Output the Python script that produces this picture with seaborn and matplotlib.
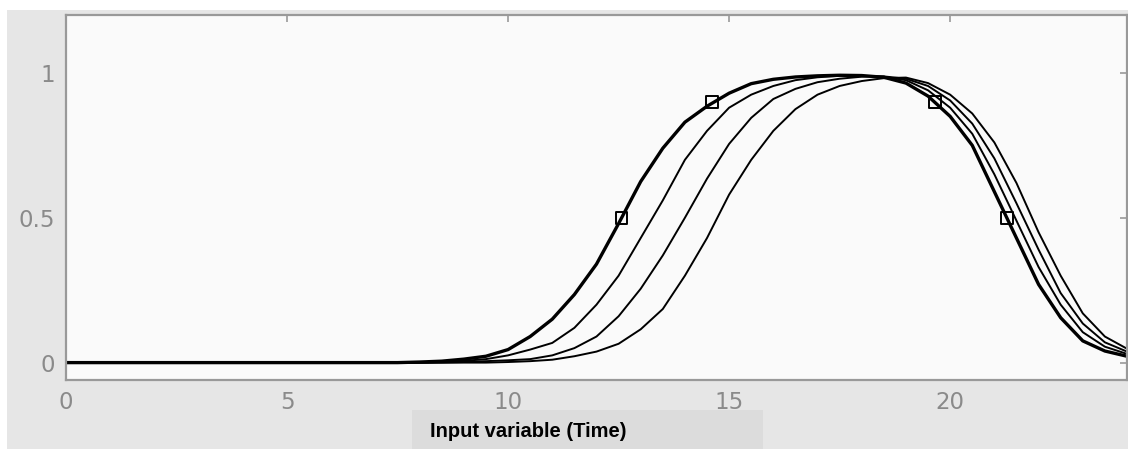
import numpy as np
import pandas as pd
import matplotlib
matplotlib.use("Agg")
import matplotlib.pyplot as plt
import seaborn as sns
from matplotlib.patches import Rectangle

# time grid the curves were read on
time = [0, 7.5, 8.0, 8.5, 9.0, 9.5, 10.0, 10.5, 11.0, 11.5, 12.0, 12.5, 13.0, 13.5,
        14.0, 14.5, 15.0, 15.5, 16.0, 16.5, 17.0, 17.5, 18.0, 18.5, 19.0, 19.5,
        20.0, 20.5, 21.0, 21.5, 22.0, 22.5, 23.0, 23.5, 24.0]

# reference curve (thick, with markers)
curve_a = [0, 0, 0.002, 0.005, 0.012, 0.022, 0.045, 0.09, 0.15, 0.235, 0.34, 0.48,
           0.625, 0.74, 0.83, 0.885, 0.93, 0.963, 0.978, 0.986, 0.99, 0.992, 0.991,
           0.985, 0.965, 0.92, 0.85, 0.75, 0.59, 0.43, 0.27, 0.155, 0.075, 0.04, 0.022]
curve_b = [0, 0, 0, 0.002, 0.006, 0.012, 0.025, 0.045, 0.068, 0.12, 0.2, 0.3,
           0.43, 0.56, 0.70, 0.8, 0.88, 0.925, 0.955, 0.975, 0.985, 0.99, 0.99,
           0.987, 0.975, 0.94, 0.88, 0.79, 0.65, 0.49, 0.33, 0.2, 0.105, 0.055, 0.03]
curve_c = [0, 0, 0, 0, 0.002, 0.005, 0.008, 0.012, 0.025, 0.05, 0.09, 0.16,
           0.255, 0.37, 0.5, 0.635, 0.755, 0.845, 0.91, 0.945, 0.968, 0.98, 0.987,
           0.988, 0.98, 0.955, 0.905, 0.825, 0.705, 0.55, 0.39, 0.24, 0.135, 0.07, 0.038]
curve_d = [0, 0, 0, 0, 0, 0, 0.002, 0.005, 0.01, 0.022, 0.038, 0.065,
           0.115, 0.185, 0.3, 0.43, 0.58, 0.7, 0.8, 0.875, 0.925, 0.955, 0.972,
           0.982, 0.984, 0.965, 0.925, 0.86, 0.76, 0.62, 0.45, 0.3, 0.17, 0.09, 0.048]

# square markers at 50% / 90% points of the reference curve
mark_t = [12.57, 14.61, 19.66, 21.28]
mark_v = [0.5, 0.9, 0.9, 0.5]

sns.set_style("white")
plt.rcParams["font.family"] = ["DejaVu Sans"]

fig = plt.figure(figsize=(11.28, 4.49), dpi=100, facecolor="white")
# grey window background and label box
fig.patches.append(Rectangle((0.0062, 0), 1, 0.9777, transform=fig.transFigure,
                             facecolor="#e6e6e6", edgecolor="none", zorder=-3))
fig.patches.append(Rectangle((0.365, 0), 0.311, 0.0869, transform=fig.transFigure,
                             facecolor="#dcdcdc", edgecolor="none", zorder=-2))

ax = fig.add_axes([0.0585, 0.1537, 0.9406, 0.8129])
ax.set_facecolor("#fafafa")

for vals in [curve_b, curve_c, curve_d]:
    sns.lineplot(x=time, y=vals, ax=ax, color="black", lw=1.4)
sns.lineplot(x=time, y=curve_a, ax=ax, color="black", lw=2.4)
sns.scatterplot(x=mark_t, y=mark_v, ax=ax, marker="s", s=70,
                facecolor="none", edgecolor="black", linewidth=1.4, zorder=5)

ax.set_xlim(0, 24)
ax.set_ylim(-0.06, 1.2)
ax.set_xticks([0, 5, 10, 15, 20])
ax.set_xticklabels(["0", "5", "10", "15", "20"])
ax.set_yticks([0, 0.5, 1])
ax.set_yticklabels(["0", "0.5", "1"])
ax.tick_params(direction="in", length=5, width=1.2, color="#999999",
               labelcolor="#8a8a8a", labelsize=16.5, pad=8,
               top=True, right=True)
for sp in ax.spines.values():
    sp.set_visible(True)
    sp.set_color("#999999")
    sp.set_linewidth(1.6)

fig.text(0.381, 0.0385, "Input variable (Time)", fontsize=14.5, fontweight="bold",
         family="Liberation Sans", color="black", va="center", ha="left", zorder=5)

fig.savefig("out.png", dpi=100, facecolor=fig.get_facecolor())
